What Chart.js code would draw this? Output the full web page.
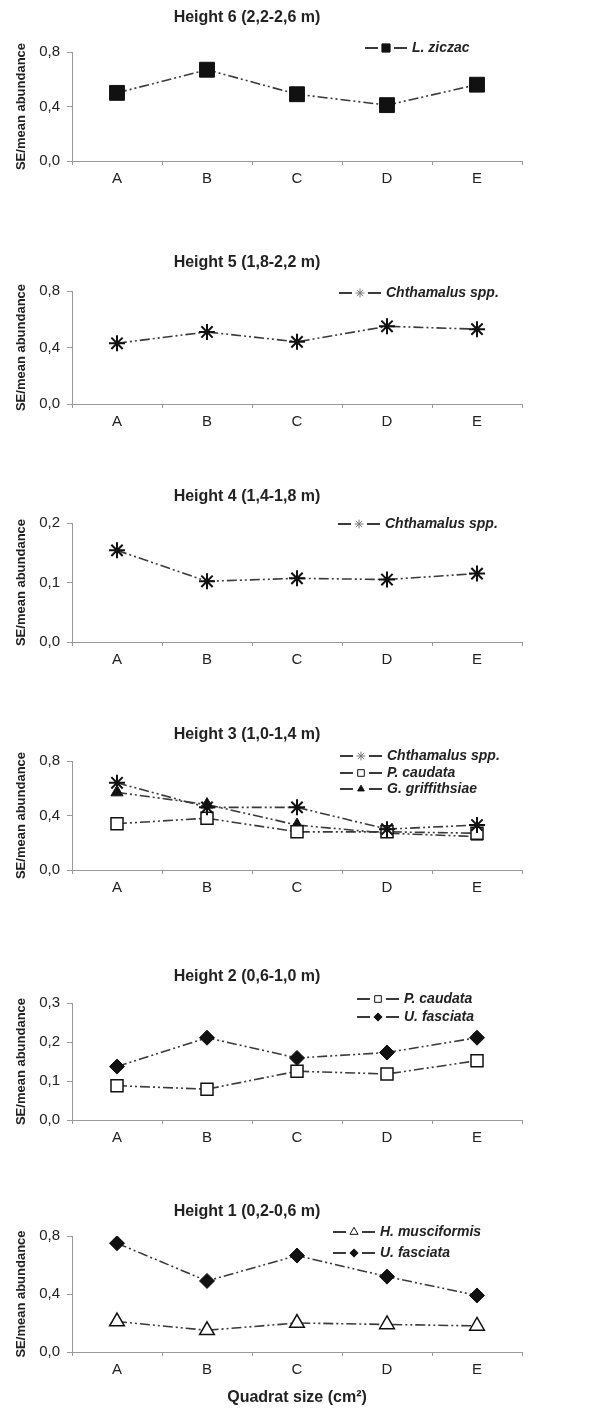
<!DOCTYPE html>
<html>
<head>
<meta charset="utf-8">
<script src="https://cdn.jsdelivr.net/npm/chart.js@4.4.0/dist/chart.umd.min.js"></script>
<style>
  html, body { margin: 0; padding: 0; background: #fff; overflow: hidden; }
  body { width: 594px; height: 1408px; position: relative; }
  canvas { position: absolute; left: -28px; }
</style>
</head>
<body>
<canvas id="h6"></canvas>
<canvas id="h5"></canvas>
<canvas id="h4"></canvas>
<canvas id="h3"></canvas>
<canvas id="h2"></canvas>
<canvas id="h1"></canvas>
<script>
// quadrat sizes (x categories)
const categories = ['A', 'B', 'C', 'D', 'E'];

const titles = ['Height 6 (2,2-2,6 m)', 'Height 5 (1,8-2,2 m)', 'Height 4 (1,4-1,8 m)',
                'Height 3 (1,0-1,4 m)', 'Height 2 (0,6-1,0 m)', 'Height 1 (0,2-0,6 m)'];
const yMaxes = [0.8, 0.8, 0.2, 0.8, 0.3, 0.8];
const ySteps = [0.4, 0.4, 0.1, 0.4, 0.1, 0.4];

// SE/mean abundance per quadrat size
const h6Ziczac = [0.50, 0.67, 0.49, 0.41, 0.56];
const h5Chthamalus = [0.43, 0.51, 0.44, 0.55, 0.53];
const h4Chthamalus = [0.154, 0.102, 0.107, 0.105, 0.115];
const h3Chthamalus = [0.64, 0.46, 0.46, 0.30, 0.33];
const h3Caudata = [0.34, 0.38, 0.28, 0.28, 0.27];
const h3Griffithsiae = [0.57, 0.48, 0.33, 0.27, 0.245];
const h2Caudata = [0.088, 0.079, 0.125, 0.118, 0.152];
const h2Fasciata = [0.137, 0.211, 0.159, 0.173, 0.211];
const h1Musciformis = [0.21, 0.15, 0.20, 0.19, 0.18];
const h1Fasciata = [0.75, 0.49, 0.665, 0.52, 0.39];

const FONT = "'Liberation Sans', Arial, sans-serif";
const INK = '#222';
const AXIS = '#999';
const LINE = '#3a3a3a';

// marker look for each species
const styles = {
  'L. ziczac':       { pointStyle: 'rect', radius: 10.5, fill: '#111', border: 1 },
  'Chthamalus spp.': { pointStyle: 'star', radius: 8, fill: '#111', border: 2 },
  'P. caudata':      { pointStyle: 'rect', radius: 8.5, fill: '#fff', border: 1.5 },
  'G. griffithsiae': { pointStyle: 'triangle', radius: 7, fill: '#111', border: 1 },
  'U. fasciata':     { pointStyle: 'rectRot', radius: 7.5, fill: '#111', border: 1 },
  'H. musciformis':  { pointStyle: 'triangle', radius: 8.5, fill: '#fff', border: 1.5 }
};

function makeDataset(label, values) {
  const s = styles[label];
  return {
    label: label,
    data: values,
    borderColor: LINE,
    borderWidth: 1.6,
    borderDash: [10, 3, 2, 3, 2, 3],
    tension: 0,
    fill: false,
    pointStyle: s.pointStyle,
    pointRadius: s.radius,
    pointHoverRadius: s.radius,
    pointBackgroundColor: s.fill,
    pointBorderColor: '#111',
    pointBorderWidth: s.border
  };
}

// draws the "— marker — name" legend rows at fixed spots
const sideLegend = {
  id: 'sideLegend',
  afterDraw(chart, args, opts) {
    const ctx = chart.ctx;
    const drawPoint = Chart.helpers && Chart.helpers.drawPoint;
    chart.data.datasets.forEach((ds, i) => {
      const x0 = opts.x;
      const y = opts.rows[i];
      const s = styles[ds.label];
      ctx.save();
      ctx.setLineDash([]);
      ctx.strokeStyle = LINE;
      ctx.lineWidth = 2.2;
      ctx.beginPath();
      ctx.moveTo(x0, y); ctx.lineTo(x0 + 13, y);
      ctx.moveTo(x0 + 29, y); ctx.lineTo(x0 + 42, y);
      ctx.stroke();
      ctx.fillStyle = s.fill;
      ctx.strokeStyle = s.pointStyle === 'star' ? '#777' : '#111';
      ctx.lineWidth = 1;
      if (drawPoint) {
        drawPoint(ctx, { pointStyle: s.pointStyle, radius: s.radius * 0.55, rotation: 0, borderWidth: 1 }, x0 + 21, y);
      }
      ctx.fillStyle = INK;
      ctx.font = 'italic bold 14px ' + FONT;
      ctx.textBaseline = 'middle';
      ctx.textAlign = 'left';
      ctx.fillText(ds.label, x0 + 47, y);
      ctx.restore();
    });
  }
};

const panels = [
  { id: 'h6', top: 6,    plotTop: 52,   plotBottom: 161,  legendX: 365, legendY: [48],
    series: [['L. ziczac', h6Ziczac]] },
  { id: 'h5', top: 251,  plotTop: 291,  plotBottom: 404,  legendX: 339, legendY: [293],
    series: [['Chthamalus spp.', h5Chthamalus]] },
  { id: 'h4', top: 485,  plotTop: 523,  plotBottom: 642,  legendX: 338, legendY: [524],
    series: [['Chthamalus spp.', h4Chthamalus]] },
  { id: 'h3', top: 723,  plotTop: 761,  plotBottom: 870,  legendX: 340, legendY: [756, 773, 789],
    series: [['Chthamalus spp.', h3Chthamalus], ['P. caudata', h3Caudata], ['G. griffithsiae', h3Griffithsiae]] },
  { id: 'h2', top: 965,  plotTop: 1003, plotBottom: 1120, legendX: 357, legendY: [999, 1017],
    series: [['P. caudata', h2Caudata], ['U. fasciata', h2Fasciata]] },
  { id: 'h1', top: 1200, plotTop: 1236, plotBottom: 1352, legendX: 333, legendY: [1232, 1253],
    series: [['H. musciformis', h1Musciformis], ['U. fasciata', h1Fasciata]], last: true }
];

panels.forEach((p, idx) => {
  const xHeight = p.last ? 56 : 30;
  const canvas = document.getElementById(p.id);
  canvas.width = 622;
  canvas.height = p.plotBottom - p.top + xHeight;
  canvas.style.top = p.top + 'px';

  new Chart(canvas.getContext('2d'), {
    type: 'line',
    data: {
      labels: categories,
      datasets: p.series.map(([name, values]) => makeDataset(name, values))
    },
    options: {
      responsive: false,
      animation: false,
      layout: { padding: { left: 0, right: 72, top: 0, bottom: 0 } },
      plugins: {
        legend: { display: false },
        tooltip: { enabled: false },
        title: {
          display: true,
          text: titles[idx],
          color: INK,
          font: { family: FONT, size: 16, weight: 'bold' },
          padding: { top: 2.4, bottom: p.plotTop - p.top - 21.6 }
        },
        sideLegend: { x: p.legendX + 28, rows: p.legendY.map(y => y - p.top) }
      },
      scales: {
        x: {
          type: 'category',
          offset: true,
          afterFit(scale) { scale.height = xHeight; },
          grid: { offset: true, drawOnChartArea: false, drawTicks: true, tickLength: 4, color: AXIS },
          border: { display: true, color: AXIS, width: 1 },
          ticks: { color: INK, padding: 5, font: { family: FONT, size: 15 } },
          title: {
            display: !!p.last,
            text: 'Quadrat size (cm²)',
            color: INK,
            font: { family: FONT, size: 16, weight: 'bold' },
            padding: { top: 0, bottom: 1 }
          }
        },
        y: {
          min: 0,
          max: yMaxes[idx],
          afterFit(scale) { scale.width = 100; },
          grid: { drawOnChartArea: false, drawTicks: true, tickLength: 5, color: AXIS },
          border: { display: true, color: AXIS, width: 1 },
          ticks: {
            stepSize: ySteps[idx],
            color: INK,
            padding: 7,
            font: { family: FONT, size: 15 },
            callback: (v) => v.toFixed(1).replace('.', ',')
          },
          title: {
            display: true,
            text: 'SE/mean abundance',
            color: INK,
            font: { family: FONT, size: 13, weight: 'bold' },
            padding: { top: 42, bottom: 0 }
          }
        }
      }
    },
    plugins: [sideLegend]
  });
});
</script>
</body>
</html>
